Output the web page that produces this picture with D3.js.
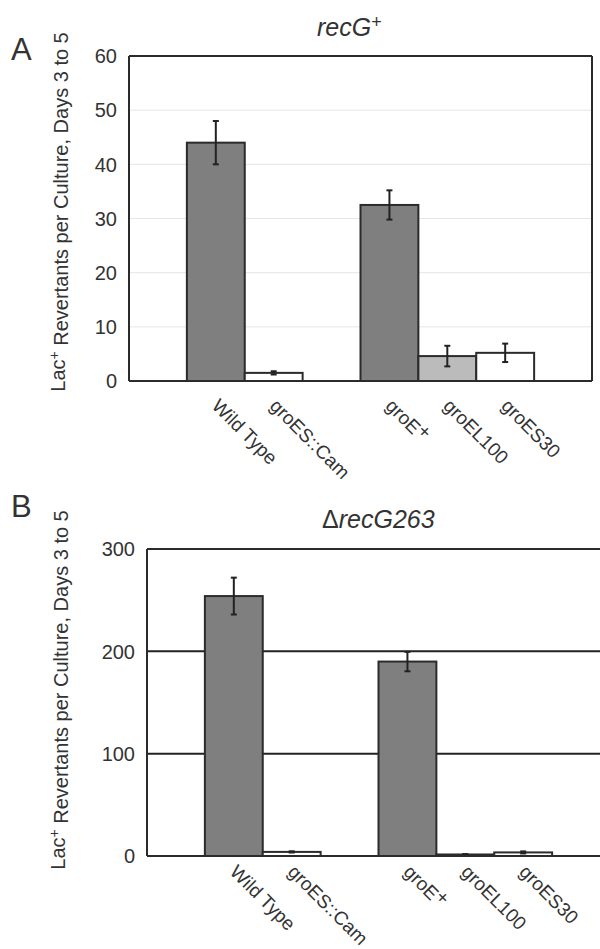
<!DOCTYPE html>
<html>
<head>
<meta charset="utf-8">
<script src="https://cdn.jsdelivr.net/npm/d3@7"></script>
<style>
  body { margin: 0; background: #fff; }
  text { font-family: "Liberation Sans", Arial, sans-serif; fill: #333; }
</style>
</head>
<body>
<div id="chart"></div>
<script>
// categories (with empty spacer slots between the groups)
var slots = ["pad0", "Wild Type", "groES::Cam", "pad1", "groE+", "groEL100", "groES30", "pad2"];
var categories = ["Wild Type", "groES::Cam", "groE+", "groEL100", "groES30"];
var fills = ["#7f7f7f", "#ffffff", "#7f7f7f", "#bbbbbb", "#ffffff"];

// panel A: recG+
var valuesA = [44, 1.5, 32.5, 4.6, 5.2];
var errorsA = [4, 0.3, 2.7, 1.9, 1.7];
var ticksA = [0, 10, 20, 30, 40, 50, 60];

// panel B: ΔrecG263
var valuesB = [254, 4, 190, 1.5, 3.5];
var errorsB = [18, 0.6, 9.5, 0.4, 1];
var ticksB = [0, 100, 200, 300];

var yLabel = "Revertants per Culture, Days 3 to 5";

var svg = d3.select("#chart").append("svg")
    .attr("width", 600)
    .attr("height", 949);

function drawPanel(opt) {
  var x = d3.scaleBand().domain(slots).range([opt.left, opt.left + 463]).padding(0);
  var y = d3.scaleLinear().domain([0, opt.max]).range([opt.bottom, opt.top]);
  var g = svg.append("g");

  // grid lines
  g.selectAll(".grid")
    .data(opt.ticks.filter(function(d) { return d > 0; }))
    .enter().append("line")
    .attr("x1", opt.left).attr("x2", opt.left + 463)
    .attr("y1", function(d) { return y(d); })
    .attr("y2", function(d) { return y(d); })
    .attr("stroke", opt.gridColor)
    .attr("stroke-width", opt.gridWidth);

  // tick labels
  g.selectAll(".tick")
    .data(opt.ticks)
    .enter().append("text")
    .attr("x", opt.left - 12)
    .attr("y", function(d) { return y(d); })
    .attr("dy", "0.36em")
    .attr("text-anchor", "end")
    .style("font-size", "20px")
    .text(function(d) { return d; });

  // bars
  g.selectAll(".bar")
    .data(opt.values)
    .enter().append("rect")
    .attr("x", function(d, i) { return x(categories[i]); })
    .attr("y", function(d) { return y(d); })
    .attr("width", x.bandwidth())
    .attr("height", function(d) { return y(0) - y(d); })
    .attr("fill", function(d, i) { return fills[i]; })
    .attr("stroke", "#2b2b2b")
    .attr("stroke-width", 2);

  // error bars
  var eb = g.selectAll(".err")
    .data(opt.values)
    .enter().append("g");
  eb.append("line")
    .attr("x1", function(d, i) { return x(categories[i]) + x.bandwidth() / 2; })
    .attr("x2", function(d, i) { return x(categories[i]) + x.bandwidth() / 2; })
    .attr("y1", function(d, i) { return y(d + opt.errors[i]); })
    .attr("y2", function(d, i) { return y(d - opt.errors[i]); })
    .attr("stroke", "#222").attr("stroke-width", 2);
  [1, -1].forEach(function(s) {
    eb.append("line")
      .attr("x1", function(d, i) { return x(categories[i]) + x.bandwidth() / 2 - 3; })
      .attr("x2", function(d, i) { return x(categories[i]) + x.bandwidth() / 2 + 3; })
      .attr("y1", function(d, i) { return y(d + s * opt.errors[i]); })
      .attr("y2", function(d, i) { return y(d + s * opt.errors[i]); })
      .attr("stroke", "#222").attr("stroke-width", 2);
  });

  // frame
  g.append("line")
    .attr("x1", opt.left).attr("x2", opt.left)
    .attr("y1", opt.top).attr("y2", opt.bottom)
    .attr("stroke", "#2b2b2b").attr("stroke-width", 2);
  g.append("line")
    .attr("x1", opt.left).attr("x2", opt.left + 463)
    .attr("y1", opt.bottom).attr("y2", opt.bottom)
    .attr("stroke", "#2b2b2b").attr("stroke-width", 2);
  g.append("line")
    .attr("x1", opt.left).attr("x2", opt.left + 463)
    .attr("y1", opt.top).attr("y2", opt.top)
    .attr("stroke", "#2b2b2b").attr("stroke-width", 2);
  if (opt.rightBorder) {
    g.append("line")
      .attr("x1", opt.left + 463).attr("x2", opt.left + 463)
      .attr("y1", opt.top).attr("y2", opt.bottom)
      .attr("stroke", "#2b2b2b").attr("stroke-width", 2);
  }

  // category labels, rotated 45 degrees
  g.selectAll(".cat")
    .data(categories)
    .enter().append("text")
    .attr("transform", function(d) {
      return "translate(" + (x(d) + x.bandwidth() / 2 - 5) + "," + (opt.bottom + opt.labelGap) + ") rotate(45)";
    })
    .style("font-size", "19px")
    .each(function(d) {
      var t = d3.select(this);
      if (d === "groE+") {
        t.append("tspan").text("groE");
        t.append("tspan").attr("dy", "-0.25em").text("+");
      } else {
        t.text(d);
      }
    });

  // y label
  var yl = g.append("text")
    .attr("transform", "translate(" + opt.ylabelX + "," + opt.ylabelY + ") rotate(-90)")
    .attr("text-anchor", "middle")
    .style("font-size", "20px");
  yl.append("tspan").text("Lac");
  yl.append("tspan").attr("dy", "-0.45em").style("font-size", "14px").text("+");
  yl.append("tspan").attr("dy", "0.45em").text(" " + yLabel);

  // panel letter
  g.append("text")
    .attr("x", 11).attr("y", opt.letterY)
    .style("font-size", "31px")
    .text(opt.letter);

  // title
  var tt = g.append("text")
    .attr("x", opt.titleX).attr("y", opt.titleY)
    .style("font-size", "25px")
    .style("font-style", "italic");
  opt.title(tt);
}

drawPanel({
  left: 129, top: 56, bottom: 381, max: 60,
  values: valuesA, errors: errorsA, ticks: ticksA,
  gridColor: "#e6e6e6", gridWidth: 1, rightBorder: true,
  labelGap: 26, ylabelX: 65, ylabelY: 212,
  letter: "A", letterY: 60,
  titleX: 317, titleY: 36,
  title: function(t) {
    t.append("tspan").text("recG");
    t.append("tspan").attr("dy", "-0.45em").style("font-size", "18px").style("font-style", "normal").text("+");
  }
});

drawPanel({
  left: 147, top: 549, bottom: 856, max: 300,
  values: valuesB, errors: errorsB, ticks: ticksB,
  gridColor: "#222", gridWidth: 2, rightBorder: false,
  labelGap: 17, ylabelX: 65, ylabelY: 690,
  letter: "B", letterY: 517,
  titleX: 322, titleY: 528,
  title: function(t) {
    t.append("tspan").style("font-style", "normal").text("\u0394");
    t.append("tspan").text("recG263");
  }
});
</script>
</body>
</html>
